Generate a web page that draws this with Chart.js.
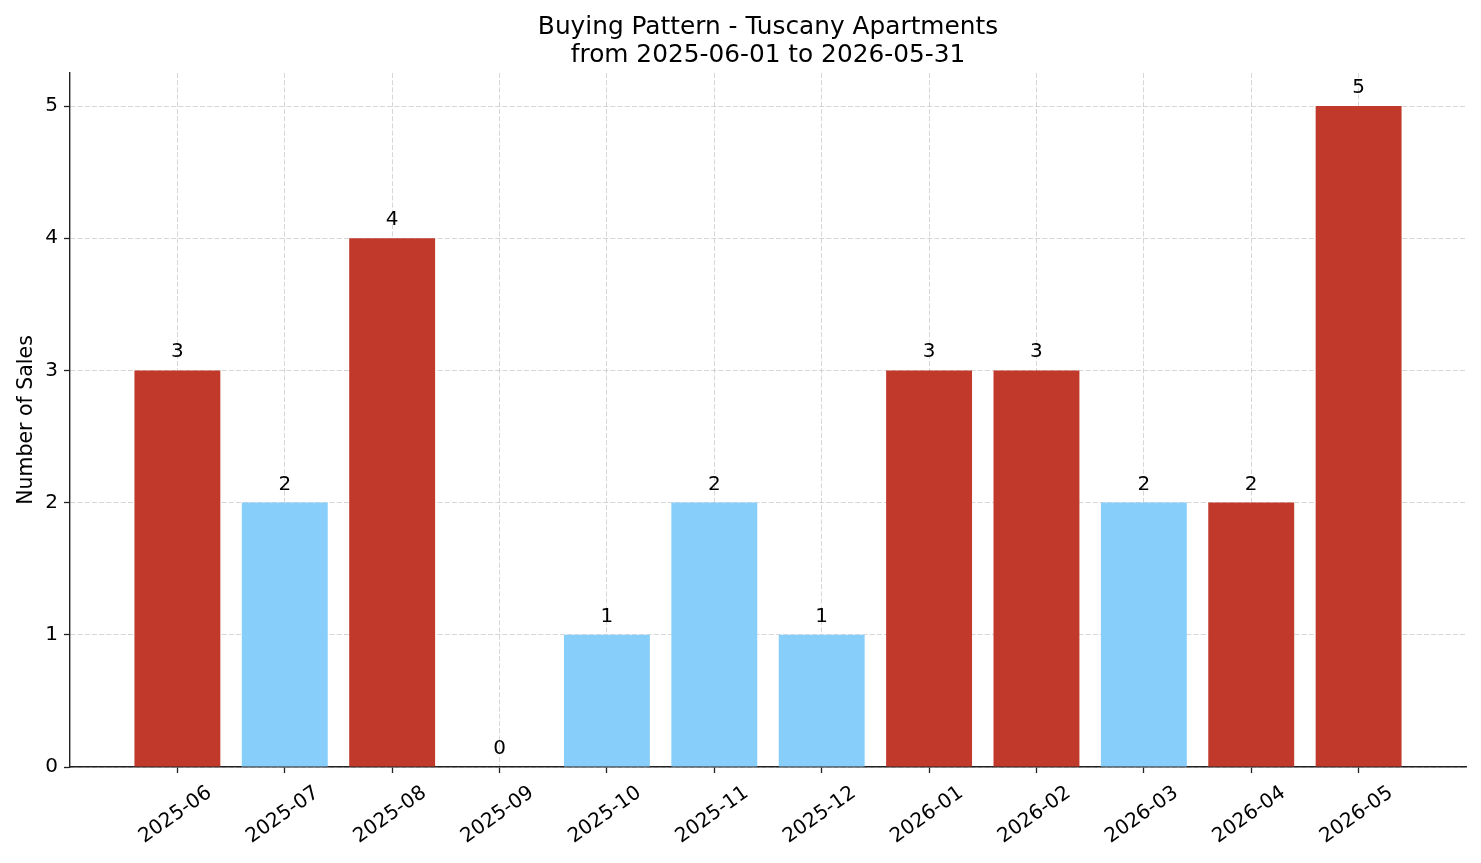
<!DOCTYPE html>
<html>
<head>
<meta charset="utf-8">
<script src="https://cdn.jsdelivr.net/npm/chart.js@4/dist/chart.umd.min.js"></script>
<style>
  html, body { margin: 0; padding: 0; background: #ffffff; }
  #c { display: block; }
</style>
</head>
<body>
<canvas id="c" width="1481" height="863"></canvas>
<script>
// ---- Data ----
const titleLines = ['Buying Pattern - Tuscany Apartments', 'from 2025-06-01 to 2026-05-31'];
const yAxisTitle = 'Number of Sales';
const months = ['2025-06', '2025-07', '2025-08', '2025-09', '2025-10', '2025-11',
                '2025-12', '2026-01', '2026-02', '2026-03', '2026-04', '2026-05'];
const sales = [3, 2, 4, 0, 1, 2, 1, 3, 3, 2, 2, 5];
const yTicks = [0, 1, 2, 3, 4, 5];

// ---- Styles ----
const RED = '#c0392b';
const BLUE = '#87cefa';
const barColors = [RED, BLUE, RED, BLUE, BLUE, BLUE, BLUE, RED, RED, BLUE, RED, RED];
const FONT = 'DejaVu Sans';
const GRID = 'rgba(176,176,176,0.5)';
const AXIS = '#222222';

const points = months.map((m, i) => ({ x: i, y: sales[i] }));

// Title centred over the plot area (as in the reference)
const plotTitle = {
  id: 'plotTitle',
  afterDraw(chart) {
    const ctx = chart.ctx;
    const ca = chart.chartArea;
    const cx = (ca.left + ca.right) / 2;
    ctx.save();
    ctx.font = '24.8px "' + FONT + '"';
    ctx.fillStyle = '#000';
    ctx.textAlign = 'center';
    ctx.textBaseline = 'alphabetic';
    titleLines.forEach((line, i) => {
      ctx.fillText(line, cx, 33.5 + i * 28);
    });
    ctx.restore();
  }
};

const valueLabels = {
  id: 'valueLabels',
  afterDatasetsDraw(chart) {
    const ctx = chart.ctx;
    const meta = chart.getDatasetMeta(0);
    ctx.save();
    ctx.font = '20px "' + FONT + '"';
    ctx.fillStyle = '#000';
    ctx.textAlign = 'center';
    ctx.textBaseline = 'alphabetic';
    meta.data.forEach((bar, i) => {
      ctx.fillText(String(sales[i]), bar.x, bar.y - 13);
    });
    ctx.restore();
  }
};

const rotatedXLabels = {
  id: 'rotatedXLabels',
  afterDraw(chart) {
    const ctx = chart.ctx;
    const xs = chart.scales.x;
    const bottom = chart.chartArea.bottom;
    ctx.save();
    ctx.font = '20px "' + FONT + '"';
    ctx.fillStyle = '#000';
    ctx.textAlign = 'center';
    ctx.textBaseline = 'middle';
    months.forEach((m, i) => {
      const px = xs.getPixelForValue(i);
      ctx.save();
      ctx.translate(px - 2, bottom + 48);
      ctx.rotate(-35 * Math.PI / 180);
      ctx.fillText(m, 0, 0);
      ctx.restore();
    });
    ctx.restore();
  }
};

const gridOpts = {
  display: true,
  offset: false,
  color: GRID,
  lineWidth: 1,
  drawTicks: true,
  tickLength: 6,
  tickColor: AXIS,
  tickWidth: 1.3,
  tickBorderDash: []
};

new Chart(document.getElementById('c'), {
  type: 'bar',
  data: {
    datasets: [{
      data: points,
      backgroundColor: barColors,
      borderWidth: 0,
      barPercentage: 0.8,
      categoryPercentage: 1.0
    }]
  },
  options: {
    responsive: false,
    animation: false,
    devicePixelRatio: 1,
    layout: { padding: { left: 0, right: 15, top: 73, bottom: 0 } },
    plugins: {
      legend: { display: false },
      tooltip: { enabled: false },
      title: { display: false }
    },
    scales: {
      x: {
        type: 'linear',
        offset: false,
        min: -1,
        max: 12,
        z: 1,
        afterBuildTicks(scale) {
          scale.ticks = months.map((m, i) => ({ value: i }));
        },
        afterFit(scale) { scale.height = 96; },
        ticks: { display: false },
        grid: gridOpts,
        border: { display: true, color: AXIS, width: 1.4, dash: [5, 2.2] }
      },
      y: {
        type: 'linear',
        min: 0,
        max: 5.25,
        z: 1,
        afterBuildTicks(scale) {
          scale.ticks = yTicks.map(v => ({ value: v }));
        },
        afterFit(scale) { scale.width = 70; },
        ticks: {
          color: '#000',
          font: { family: FONT, size: 20 },
          padding: 6,
          includeBounds: false
        },
        title: {
          display: true,
          text: yAxisTitle,
          color: '#000',
          font: { family: FONT, size: 20.5 },
          padding: { top: 14, bottom: 0 }
        },
        grid: gridOpts,
        border: { display: true, color: AXIS, width: 1.4, dash: [5, 2.2] }
      }
    }
  },
  plugins: [valueLabels, rotatedXLabels, plotTitle]
});
</script>
</body>
</html>
